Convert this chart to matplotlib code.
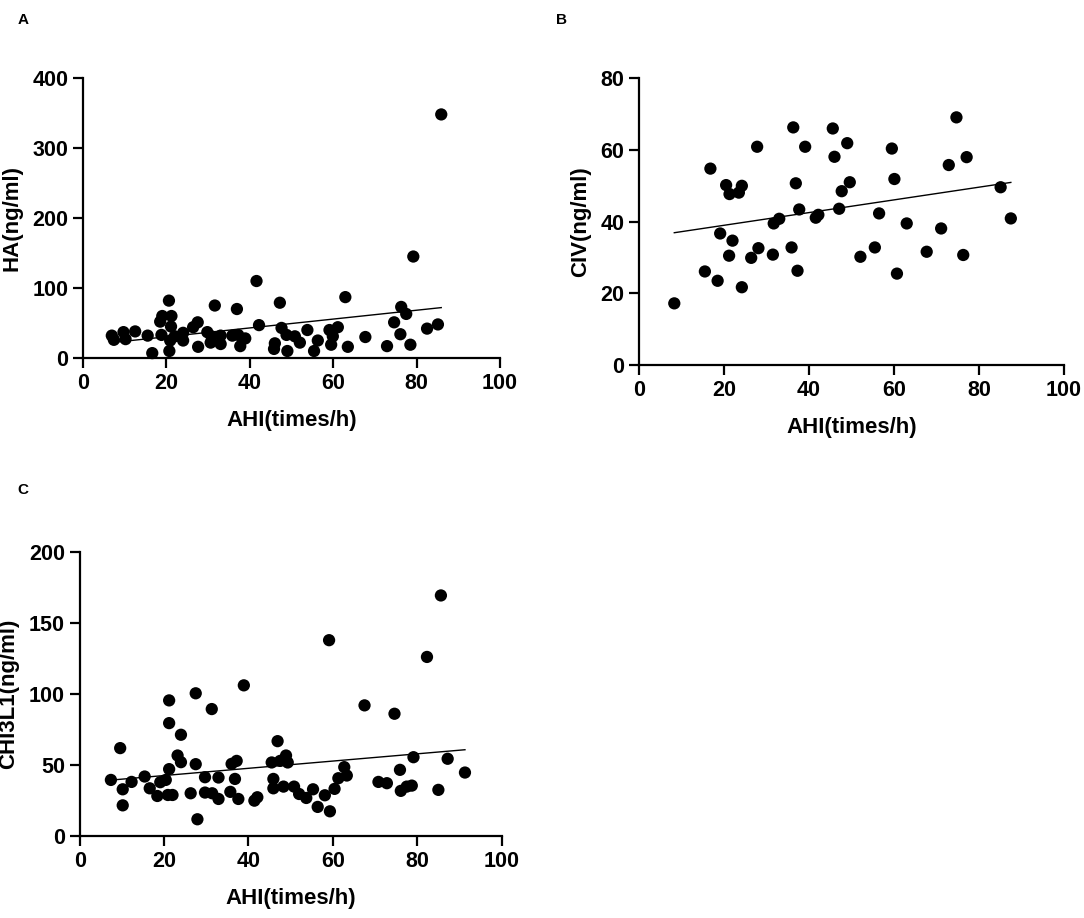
import numpy as np
import matplotlib
matplotlib.use("Agg")
import matplotlib.pyplot as plt

plt.rcParams['font.family'] = ['Liberation Sans', 'DejaVu Sans']
plt.rcParams['font.weight'] = 'bold'

# panel A: HA vs AHI
ahi_a = [85.9, 79.2, 41.6, 62.9, 20.6, 31.6, 36.9, 47.2, 76.3, 77.5, 19.0, 21.2, 18.5, 21.1,
         27.5, 26.4, 29.8, 42.2, 47.6, 53.8, 74.6, 61.1, 59.1, 59.9, 85.1, 82.5, 76.1, 78.5,
         72.9, 67.7, 63.5, 59.5, 56.3, 55.4, 52.0, 50.8, 48.8, 49.0, 46.0, 45.8, 38.9, 37.7,
         37.2, 35.8, 33.0, 33.0, 30.6, 27.6, 24.0, 24.0, 22.0, 18.8, 20.7, 16.6, 15.5, 12.5,
         9.7, 10.2, 6.9, 7.4, 20.9, 30.8]
ha = [348, 145, 110, 87, 82, 75, 70, 79, 73, 63, 60, 60, 52, 45,
      51, 44, 37, 47, 43, 40, 51, 44, 40, 31, 48, 42, 34, 19,
      17, 30, 16, 19, 25, 10, 22, 31, 33, 10, 21, 13, 28, 17,
      33, 32, 32, 20, 22, 16, 36, 25, 31, 33, 10, 7, 32, 38,
      37, 27, 32, 26, 25, 31]

# panel B: CIV vs AHI
ahi_b = [8.3, 15.5, 16.8, 18.5, 19.1, 20.5, 21.3, 21.2, 22.0, 23.5, 24.2, 24.2, 26.4, 27.8,
         28.1, 31.5, 31.7, 33.0, 35.9, 36.3, 36.9, 37.3, 37.7, 39.1, 41.6, 42.2, 45.6, 46.0,
         47.1, 47.7, 49.0, 49.6, 52.1, 55.5, 56.5, 59.5, 60.1, 60.7, 63.0, 67.7, 71.1, 72.9,
         74.7, 77.1, 76.3, 85.1, 87.5]
civ = [17.2, 26.1, 54.8, 23.5, 36.7, 50.2, 47.7, 30.5, 34.7, 48.1, 50.0, 21.7, 29.9, 60.9,
       32.6, 30.8, 39.5, 40.8, 32.8, 66.3, 50.7, 26.3, 43.4, 60.9, 41.1, 41.9, 66.0, 58.1,
       43.6, 48.5, 61.9, 51.0, 30.2, 32.8, 42.3, 60.4, 51.9, 25.5, 39.5, 31.6, 38.1, 55.8,
       69.1, 58.0, 30.7, 49.6, 40.9]

# panel C: CHI3L1 vs AHI
ahi_c = [85.6, 59.1, 82.3, 38.9, 27.5, 21.2, 31.3, 67.5, 74.6, 21.2, 24.0, 9.6, 46.9, 23.2,
         24.0, 21.2, 27.5, 36.0, 37.2, 45.5, 47.5, 48.9, 49.3, 62.7, 79.1, 87.2, 75.9, 61.3,
         63.3, 91.3, 7.4, 12.3, 15.4, 10.2, 10.2, 16.6, 18.4, 19.1, 20.4, 20.9, 22.0, 26.3,
         27.9, 29.7, 29.7, 31.4, 32.9, 32.9, 35.7, 36.8, 37.6, 41.4, 42.1, 45.9, 45.9, 48.3,
         50.8, 52.0, 53.7, 55.3, 56.4, 58.1, 59.3, 60.4, 70.8, 72.8, 76.1, 77.5, 78.7, 85.0]
chi3l1 = [169.4, 137.9, 126.1, 106.1, 100.5, 95.5, 89.4, 92.0, 86.1, 79.5, 71.3, 61.9, 66.8, 56.7,
          52.0, 47.1, 50.6, 50.8, 52.9, 51.8, 52.9, 56.7, 51.8, 48.5, 55.5, 54.4, 46.6, 40.7,
          42.6, 44.7, 39.5, 38.1, 41.9, 32.9, 21.6, 33.6, 28.2, 37.9, 39.5, 28.9, 28.9, 30.1,
          11.8, 41.4, 30.6, 30.1, 41.2, 26.1, 31.1, 40.2, 26.1, 24.9, 27.3, 40.2, 33.6, 34.8,
          34.8, 29.6, 26.8, 32.9, 20.5, 28.7, 17.4, 33.2, 38.1, 37.2, 31.8, 34.8, 35.5, 32.5]

x_ticks = [0, 20, 40, 60, 80, 100]

fig = plt.figure(figsize=(10.84, 9.18), dpi=100)

panels = [
    # rect, x, y, ylabel, yticks, letter, letter pos
    ([0.0766, 0.6100, 0.3847, 0.3050], ahi_a, ha, 'HA(ng/ml)', [0, 100, 200, 300, 400], 'A', (0.016, 0.978)),
    ([0.5895, 0.6024, 0.3920, 0.3123], ahi_b, civ, 'CIV(ng/ml)', [0, 20, 40, 60, 80], 'B', (0.513, 0.978)),
    ([0.0735, 0.0893, 0.3893, 0.3094], ahi_c, chi3l1, 'CHI3L1(ng/ml)', [0, 50, 100, 150, 200], 'C', (0.016, 0.466)),
]

for rect, xs, ys, ylab, yt, letter, lpos in panels:
    ax = fig.add_axes(rect)
    xs = np.array(xs)
    ys = np.array(ys)
    ax.scatter(xs, ys, s=78, c='black', edgecolors='none', zorder=3, clip_on=False)
    # linear regression line over the data range
    k, b = np.polyfit(xs, ys, 1)
    xl = np.array([xs.min(), xs.max()])
    ax.plot(xl, k * xl + b, color='black', lw=1.0, zorder=2)

    ax.set_xlim(0, 100)
    ax.set_ylim(yt[0], yt[-1])
    ax.set_xticks(x_ticks)
    ax.set_yticks(yt)
    for side in ['top', 'right']:
        ax.spines[side].set_visible(False)
    for side in ['left', 'bottom']:
        ax.spines[side].set_linewidth(1.6)
    ax.tick_params(direction='out', length=7.5, width=1.6, labelsize=15.5, pad=3)
    for lab in ax.get_xticklabels() + ax.get_yticklabels():
        lab.set_fontweight('bold')
    ax.set_xlabel('AHI(times/h)', fontsize=16, fontweight='bold', labelpad=12)
    ax.set_ylabel(ylab, fontsize=16, fontweight='bold', labelpad=7)
    fig.text(lpos[0], lpos[1], letter, fontsize=11, fontweight='bold', va='center')

fig.savefig('out.png', dpi=100)
